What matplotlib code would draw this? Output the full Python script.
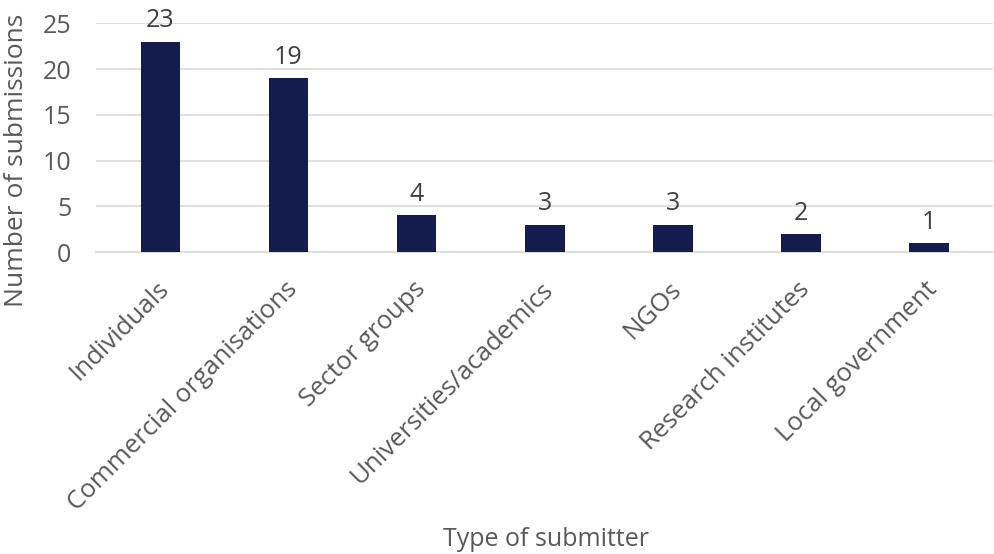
import matplotlib.pyplot as plt
from matplotlib.transforms import ScaledTranslation

categories = ["Individuals", "Commercial organisations", "Sector groups",
              "Universities/academics", "NGOs", "Research institutes",
              "Local government"]
submissions = [23, 19, 4, 3, 3, 2, 1]

plt.rcParams['font.family'] = ['Open Sans', 'DejaVu Sans']

fig = plt.figure(figsize=(9.94, 5.54), dpi=100)
ax = fig.add_axes([0.097, 0.545, 0.902, 0.413])

x = list(range(len(categories)))
bars = ax.bar(x, submissions, width=0.31, color="#131C4C", zorder=3)
for xi, v in zip(x, submissions):
    ax.text(xi, v + 0.9, str(v), ha="center", va="bottom", fontsize=18, color="#404040")

ax.set_xlim(-0.5, len(categories) - 0.5)
ax.set_ylim(0, 25)
ax.set_yticks([0, 5, 10, 15, 20, 25])
ax.yaxis.grid(True, color="#D9D9D9", linewidth=1.2, zorder=0)
for s in ["top", "right", "left"]:
    ax.spines[s].set_visible(False)
ax.spines["bottom"].set_color("#D9D9D9")
ax.spines["bottom"].set_linewidth(1.2)
ax.tick_params(length=0, labelsize=18, colors="#595959")
ax.tick_params(axis="y", pad=18)
ax.tick_params(axis="x", pad=24, labelsize=18.5)
ax.set_xticks(x)
ax.set_xticklabels(categories, rotation=45, ha="right", va="center", rotation_mode="anchor")
shift = ScaledTranslation(5 / 100, 0, fig.dpi_scale_trans)
for lbl in ax.get_xticklabels():
    lbl.set_transform(lbl.get_transform() + shift)

fig.text(0.017, 0.71, "Number of submissions", rotation=90, ha="center", va="center",
         fontsize=19, color="#595959")
fig.text(0.549, 0.003, "Type of submitter", ha="center", va="bottom", fontsize=18, color="#595959")

fig.savefig("out.png", dpi=100)
